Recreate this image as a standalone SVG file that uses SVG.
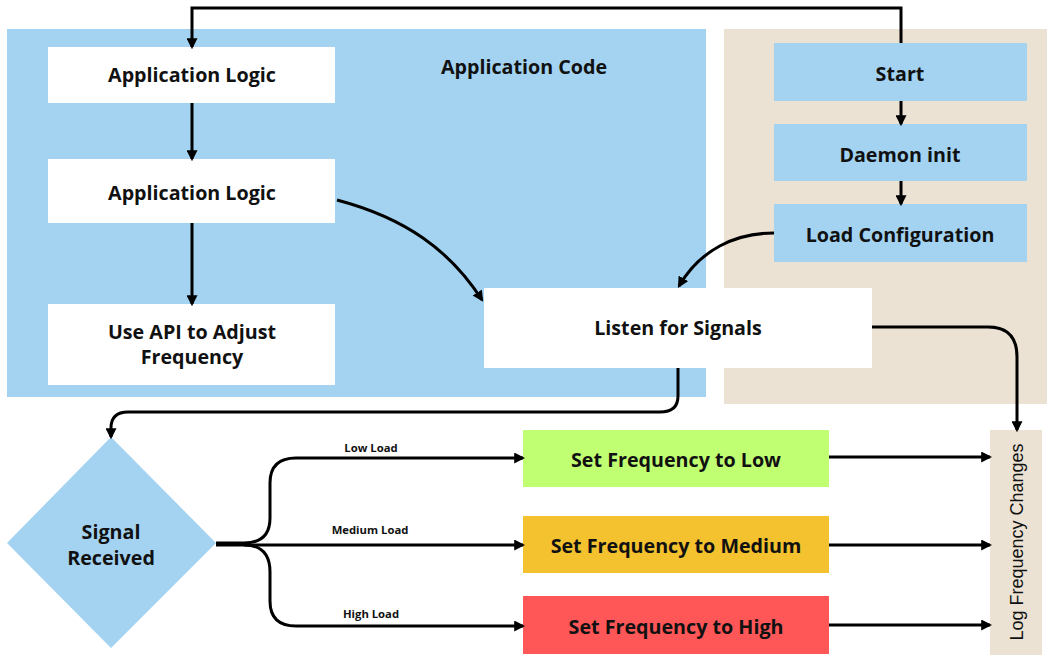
<svg xmlns="http://www.w3.org/2000/svg" width="1047" height="658" viewBox="0 0 1047 658">
<style>
.lbl{font-family:"Open Sans",Lato,sans-serif;font-weight:bold;font-size:19.7px;fill:#111;text-anchor:middle;dominant-baseline:central}
.sm{font-family:"Open Sans",Lato,sans-serif;font-weight:bold;font-size:11.3px;fill:#111;text-anchor:middle}
.ln{fill:none;stroke:#000;stroke-width:3;marker-end:url(#ah)}
.wb{fill:#fff}
.bb{fill:#A3D3F1}
</style>
<defs>
<marker id="ah" viewBox="0 0 10 10" refX="8" refY="5" markerWidth="11" markerHeight="11" markerUnits="userSpaceOnUse" orient="auto">
<path d="M0,0 L10,5 L0,10 z" fill="#000"/>
</marker>
</defs>
<rect width="1047" height="658" fill="#fff"/>
<g id="app-code">
<rect x="7" y="29" width="699" height="368" class="bb"/>
<text x="524" y="66" class="lbl">Application Code</text>
</g>
<g id="daemon-area">
<rect x="724" y="29" width="323" height="375" fill="#EBE2D3"/>
</g>
<g id="app-logic-1">
<rect x="48" y="47" width="287" height="56" class="wb"/>
<text x="192" y="74" class="lbl">Application Logic</text>
</g>
<g id="app-logic-2">
<rect x="48" y="159" width="287" height="64" class="wb"/>
<text x="192" y="192" class="lbl">Application Logic</text>
</g>
<g id="use-api">
<rect x="48" y="304" width="287" height="81" class="wb"/>
<text x="192" y="331" class="lbl">Use API to Adjust</text>
<text x="192" y="356" class="lbl">Frequency</text>
</g>
<g id="start">
<rect x="774" y="43" width="253" height="58" class="bb"/>
<text x="900" y="73" class="lbl">Start</text>
</g>
<g id="daemon-init">
<rect x="774" y="124" width="253" height="57" class="bb"/>
<text x="900" y="154" class="lbl">Daemon init</text>
</g>
<g id="load-config">
<rect x="774" y="204" width="253" height="58" class="bb"/>
<text x="900" y="234" class="lbl">Load Configuration</text>
</g>
<g id="listen">
<rect x="484" y="288" width="388" height="80" class="wb"/>
<text x="678" y="327" class="lbl">Listen for Signals</text>
</g>
<g id="signal-received">
<polygon points="111,437 216,543 111,648 7,543" class="bb"/>
<text x="111" y="531" class="lbl">Signal</text>
<text x="111" y="557" class="lbl">Received</text>
</g>
<g id="set-low">
<rect x="523" y="430" width="306" height="57" fill="#C1FF72"/>
<text x="676" y="459" class="lbl">Set Frequency to Low</text>
</g>
<g id="set-medium">
<rect x="523" y="516" width="306" height="57" fill="#F4C12F"/>
<text x="676" y="545" class="lbl">Set Frequency to Medium</text>
</g>
<g id="set-high">
<rect x="523" y="596" width="306" height="58" fill="#FF5757"/>
<text x="676" y="626" class="lbl">Set Frequency to High</text>
</g>
<g id="log-changes">
<rect x="990" y="430" width="52" height="225" fill="#EBE2D3"/>
<text x="1017" y="542" transform="rotate(-90 1017 542)" font-family="Liberation Sans,Arial,sans-serif" font-size="18" fill="#111" text-anchor="middle" dominant-baseline="central">Log Frequency Changes</text>
</g>
<g id="connectors">
<path class="ln" d="M901,43 V8 H192 V47"/>
<path class="ln" d="M192,103 V159"/>
<path class="ln" d="M192,223 V304"/>
<path class="ln" d="M337,200 C405,218 450,250 482,300"/>
<path class="ln" d="M901,101 V124"/>
<path class="ln" d="M901,181 V204"/>
<path class="ln" d="M774,233 C735,233 700,250 679,286"/>
<path class="ln" d="M872,327 H988 Q1017,327 1017,357 V430"/>
<path class="ln" d="M678,368 V396 Q678,412 660,412 H128 Q111,412 111,428 V437"/>
<path class="ln" d="M216,543 H244 Q270,543 270,518 V483 Q270,458 296,458 H523"/>
<path class="ln" d="M216,545 H523"/>
<path class="ln" d="M244,545 Q270,545 270,572 V601 Q270,626 296,626 H523"/>
<path class="ln" d="M829,457 H990"/>
<path class="ln" d="M829,545 H990"/>
<path class="ln" d="M829,625 H990"/>
<text x="371" y="452" class="sm">Low Load</text>
<text x="370" y="534" class="sm">Medium Load</text>
<text x="371" y="618" class="sm">High Load</text>
</g>
</svg>
